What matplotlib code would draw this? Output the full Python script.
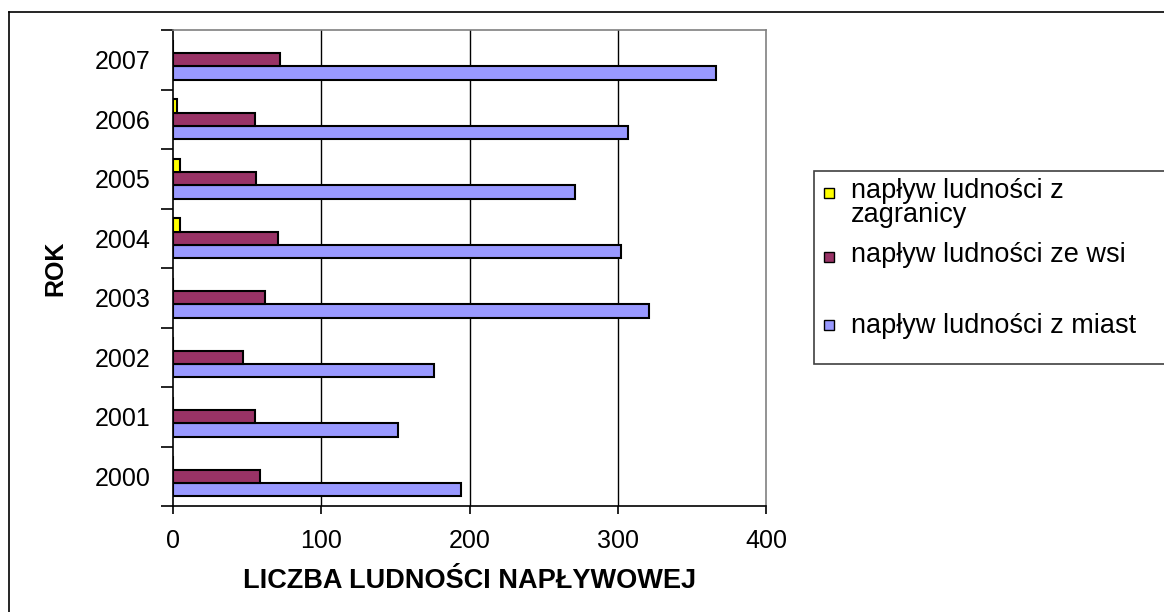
import numpy as np
import matplotlib
matplotlib.use("Agg")
from matplotlib import pyplot as plt
from matplotlib.patches import Rectangle
from matplotlib.lines import Line2D

plt.rcParams['font.family'] = ['Liberation Sans', 'DejaVu Sans']

# data
years = ['2000', '2001', '2002', '2003', '2004', '2005', '2006', '2007']
z_miast = [194, 152, 176, 321, 302, 271, 307, 366]
ze_wsi = [59, 55, 47, 62, 71, 56, 55, 72]
z_zagranicy = [0, 0, 0, 0, 5, 5, 3, 0]

series_labels = ['napływ ludności z\nzagranicy', 'napływ ludności ze wsi', 'napływ ludności z miast']
series_colors = ['#FFFF00', '#993366', '#9999FF']
x_ticks = [0, 100, 200, 300, 400]

W, H = 1164, 612
fig = plt.figure(figsize=(W / 100, H / 100), dpi=100)

def fx(px):
    return px / W

def fy(py):
    return 1 - py / H

ax = fig.add_axes([fx(173), fy(506), fx(766) - fx(173), fy(30) - fy(506)])

y = np.arange(len(years))
h = 0.222
bar_kw = dict(height=h, edgecolor='black', linewidth=1.5, zorder=3)
ax.barh(y - h, z_miast, color=series_colors[2], **bar_kw)
ax.barh(y, ze_wsi, color=series_colors[1], **bar_kw)
ax.barh(y + h, z_zagranicy, color=series_colors[0], **bar_kw)

fs = 18
ax.set_xlim(0, 400)
ax.set_ylim(-0.5, len(years) - 0.5)
ax.set_xticks(x_ticks)
ax.set_xticklabels([str(t) for t in x_ticks], fontsize=fs)
ax.set_yticks(np.arange(len(years) + 1) - 0.5)
ax.set_yticklabels([])
ax.set_yticks(y, minor=True)
ax.set_yticklabels(years, minor=True, fontsize=fs)
ax.tick_params(axis='y', which='minor', length=0, pad=16)
ax.tick_params(axis='y', which='major', length=9, width=1.2, direction='out')
ax.tick_params(axis='x', length=6, width=1.2, direction='out', pad=10.5)

for t in x_ticks[1:-1]:
    ax.axvline(t, color='black', linewidth=1.0, zorder=1)

for side in ['top', 'right']:
    ax.spines[side].set_color('#808080')
    ax.spines[side].set_linewidth(1.2)
for side in ['left', 'bottom']:
    ax.spines[side].set_color('black')
    ax.spines[side].set_linewidth(1.2)

ax.set_xlabel('LICZBA LUDNOŚCI NAPŁYWOWEJ', fontsize=19.5, fontweight='bold', labelpad=11)
ax.set_ylabel('ROK', fontsize=fs, fontweight='bold', labelpad=20)

# outer chart border (right and bottom edges are outside the picture)
fig.add_artist(Line2D([fx(9), fx(9)], [fy(12), -0.1], color='black', linewidth=1.2))
fig.add_artist(Line2D([fx(9), 1.1], [fy(12), fy(12)], color='black', linewidth=1.2))

# legend box
fig.add_artist(Rectangle((fx(814), fy(364)), 0.5, fy(171) - fy(364), transform=fig.transFigure,
                         facecolor='white', edgecolor='#404040', linewidth=1.2))
square_y = [193, 257, 325]
text_y = [203, 255, 326]
for i in range(3):
    fig.add_artist(Rectangle((fx(824), fy(square_y[i] + 5)), fx(10), fy(square_y[i] - 5) - fy(square_y[i] + 5),
                             transform=fig.transFigure, facecolor=series_colors[i],
                             edgecolor='black', linewidth=1.0))
    fig.text(fx(851), fy(text_y[i]), series_labels[i], fontsize=19.5, va='center', ha='left',
             linespacing=0.9)

fig.savefig('out.png', dpi=100)
